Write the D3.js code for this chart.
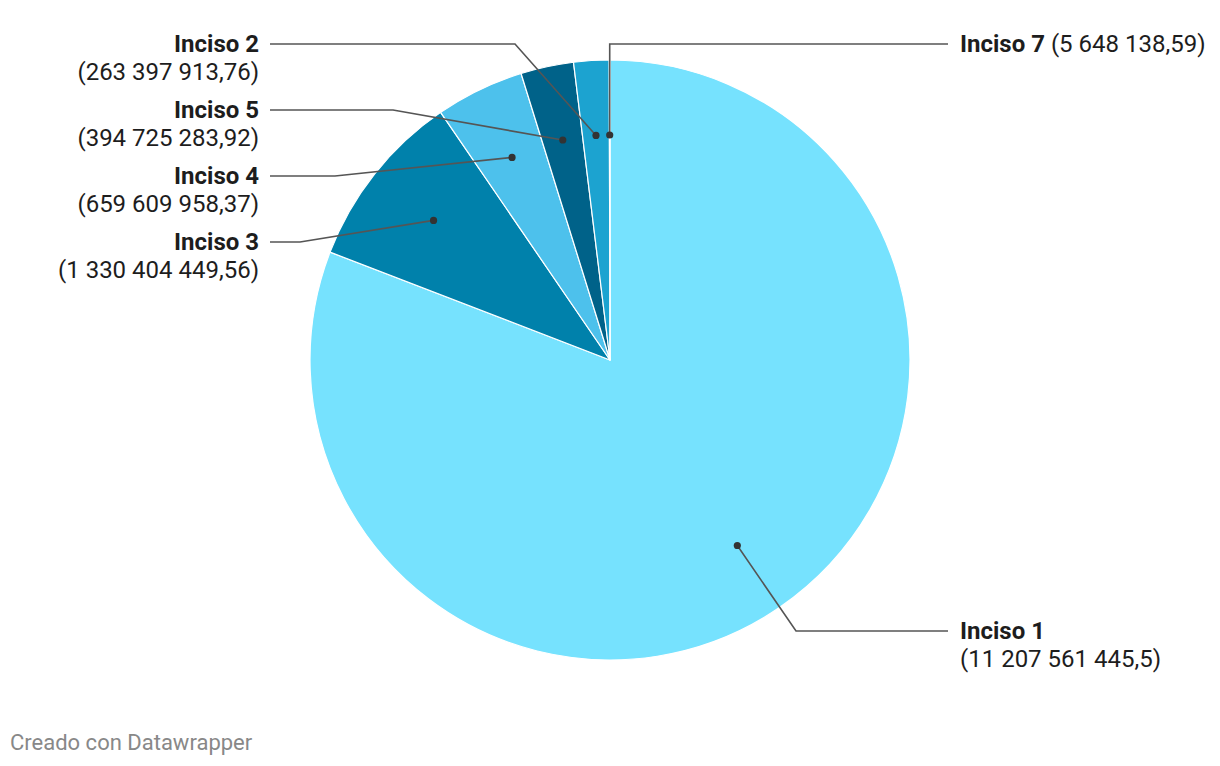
<!DOCTYPE html>
<html>
<head>
<meta charset="utf-8">
<script src="https://cdn.jsdelivr.net/npm/d3@7"></script>
<style>
  body { margin: 0; background: #fff; font-family: Roboto, "Noto Sans", sans-serif; }
  .name { font-weight: 700; fill: #1d1d1d; }
  .val { fill: #1d1d1d; }
  .footer { fill: #888; font-size: 22px; }
</style>
</head>
<body>
<svg id="chart"></svg>
<script>
var width = 1220;
var height = 766;

// data
var categories = ["Inciso 1", "Inciso 3", "Inciso 4", "Inciso 5", "Inciso 2", "Inciso 7"];
var values = [11207561445.5, 1330404449.56, 659609958.37, 394725283.92, 263397913.76, 5648138.59];
var valueLabels = ["11 207 561 445,5", "1 330 404 449,56", "659 609 958,37", "394 725 283,92", "263 397 913,76", "5 648 138,59"];
var colors = ["#76e2fe", "#0081ab", "#4dc1ec", "#006289", "#1ca3d0", "#1b86b0"];

// label layout (side, label y, elbow x)
var layout = {
    "Inciso 1": { side: "right", y: 631, elbow: 796, inline: false },
    "Inciso 3": { side: "left", y: 242, elbow: 300, inline: false },
    "Inciso 4": { side: "left", y: 176, elbow: 335, inline: false },
    "Inciso 5": { side: "left", y: 110, elbow: 393, inline: false },
    "Inciso 2": { side: "left", y: 44, elbow: 515, inline: false },
    "Inciso 7": { side: "right", y: 44, elbow: null, inline: true }
};

var cx = 610, cy = 360, radius = 300;
var fontSize = "24px";

var data = categories.map(function(c, i) {
    return { name: c, value: values[i], label: valueLabels[i], color: colors[i] };
});

var svg = d3.select("#chart")
    .attr("width", width)
    .attr("height", height);

var pie = d3.pie()
    .sort(null)
    .value(function(d) { return d.value; });

var arc = d3.arc()
    .innerRadius(0)
    .outerRadius(radius);

var dotArc = d3.arc()
    .innerRadius(225)
    .outerRadius(225);

var g = svg.append("g")
    .attr("transform", "translate(" + cx + "," + cy + ")");

var arcs = pie(data);

g.selectAll("path.slice")
    .data(arcs)
  .enter().append("path")
    .attr("class", "slice")
    .attr("d", arc)
    .attr("fill", function(d) { return d.data.color; })
    .attr("stroke", "#fff")
    .attr("stroke-width", 1.2)
    .attr("stroke-linejoin", "round");

// leader lines
var leftX = 270 - cx, rightX = 948 - cx;

arcs.forEach(function(d) {
    var L = layout[d.data.name];
    var c = dotArc.centroid(d);
    var ly = L.y - cy;
    var endX = L.side == "left" ? leftX : rightX;
    var elbowX = L.elbow == null ? c[0] : L.elbow - cx;
    var pts = [c, [elbowX, ly], [endX, ly]];

    g.append("path")
        .attr("d", d3.line()(pts))
        .attr("fill", "none")
        .attr("stroke", "#555")
        .attr("stroke-width", 1.6);

    g.append("circle")
        .attr("cx", c[0])
        .attr("cy", c[1])
        .attr("r", 3.6)
        .attr("fill", "#333");

    var tx = L.side == "left" ? 259 : 960;
    var anchor = L.side == "left" ? "end" : "start";

    if (L.inline) {
        var t = svg.append("text")
            .attr("x", tx)
            .attr("y", L.y)
            .attr("dy", "0.35em")
            .attr("text-anchor", anchor)
            .style("font-size", fontSize);
        t.append("tspan").attr("class", "name").text(d.data.name);
        t.append("tspan").attr("class", "val").text(" (" + d.data.label + ")");
    } else {
        svg.append("text")
            .attr("class", "name")
            .attr("x", tx)
            .attr("y", L.y)
            .attr("dy", "0.35em")
            .attr("text-anchor", anchor)
            .style("font-size", fontSize)
            .text(d.data.name);
        svg.append("text")
            .attr("class", "val")
            .attr("x", tx)
            .attr("y", L.y + 28)
            .attr("dy", "0.35em")
            .attr("text-anchor", anchor)
            .style("font-size", fontSize)
            .text("(" + d.data.label + ")");
    }
});

svg.append("text")
    .attr("class", "footer")
    .attr("x", 10)
    .attr("y", 750)
    .text("Creado con Datawrapper");
</script>
</body>
</html>
